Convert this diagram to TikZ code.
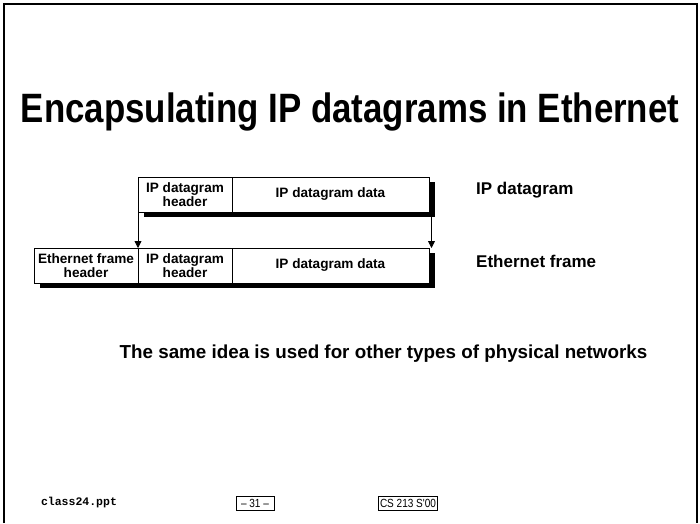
\documentclass[tikz,border=0pt]{standalone}
\usepackage{fontspec}
\setmainfont{Liberation Sans}
\newfontfamily\codefont{Liberation Mono}
\newfontfamily\narrowfont[FakeStretch=0.85]{Liberation Sans}
\usetikzlibrary{arrows.meta,backgrounds,calc}

\tikzset{
  cell/.style={draw, fill=white, line width=1pt, minimum height=35pt, inner sep=0pt,
    outer sep=0pt, align=center, font=\fontsize{13.6}{14}\selectfont\bfseries},
  shadowbox/.style={fill=black},
  label/.style={anchor=west, inner sep=0pt, font=\fontsize{17}{20}\selectfont\bfseries},
  feed/.style={line width=0.8pt, -{Triangle[length=7pt,width=7pt]}},
  pagebox/.style={draw, line width=0.6pt, inner sep=1.5pt, minimum height=14pt,
    font=\fontsize{11.8}{12}\selectfont\narrowfont}
}

\begin{document}
\begin{tikzpicture}[x=1pt,y=-1pt]
  \useasboundingbox (0,0) rectangle (700,523);

  % slide frame (open at the bottom)
  \draw[line width=2.5pt] (4,523) -- (4,4) -- (697,4) -- (697,523);

  % title
  \node[font=\fontsize{41}{46}\selectfont\narrowfont\bfseries] (title) at (350,112)
    {Encapsulating IP datagrams in Ethernet};

  % IP datagram
  \node[cell, minimum width=94pt, anchor=north west] (iph) at (138,177) {IP datagram\\header};
  \node[cell, minimum width=197pt, anchor=north west] (ipd) at (iph.north east) {IP datagram data};
  \node[label] (iplab) at (476,190) {IP datagram};

  % Ethernet frame
  \node[cell, minimum width=104pt, anchor=north west] (eth) at (34,248) {Ethernet frame\\header};
  \node[cell, minimum width=94pt, anchor=north west] (eiph) at (eth.north east) {IP datagram\\header};
  \node[cell, minimum width=197pt, anchor=north west] (eipd) at (eiph.north east) {IP datagram data};
  \node[label] (ethlab) at (476,261) {Ethernet frame};

  % drop shadows
  \begin{scope}[on background layer]
    \fill[shadowbox] ($(iph.south west)+(6,5)$) rectangle ($(ipd.north east)+(6,5)$);
    \fill[shadowbox] ($(eth.south west)+(6,5)$) rectangle ($(eipd.north east)+(6,5)$);
  \end{scope}

  % the datagram is carried inside the frame
  \coordinate (rtop) at ($(ipd.south east)+(2.5,5)$);
  \draw[feed] (iph.south west) -- (eiph.north west);
  \draw[feed] (rtop) -- (rtop |- eipd.north);

  % note
  \node[font=\fontsize{18.8}{22}\selectfont\bfseries] (note) at (383.5,354)
    {The same idea is used for other types of physical networks};

  % footer
  \node[font=\fontsize{11.5}{13}\selectfont\codefont\bfseries] (file) at (79,503) {class24.ppt};
  \node[pagebox, minimum width=38pt] (page) at (255,503) {– 31 –};
  \node[pagebox] (course) at (408,503) {CS 213 S'00};
\end{tikzpicture}
\end{document}
